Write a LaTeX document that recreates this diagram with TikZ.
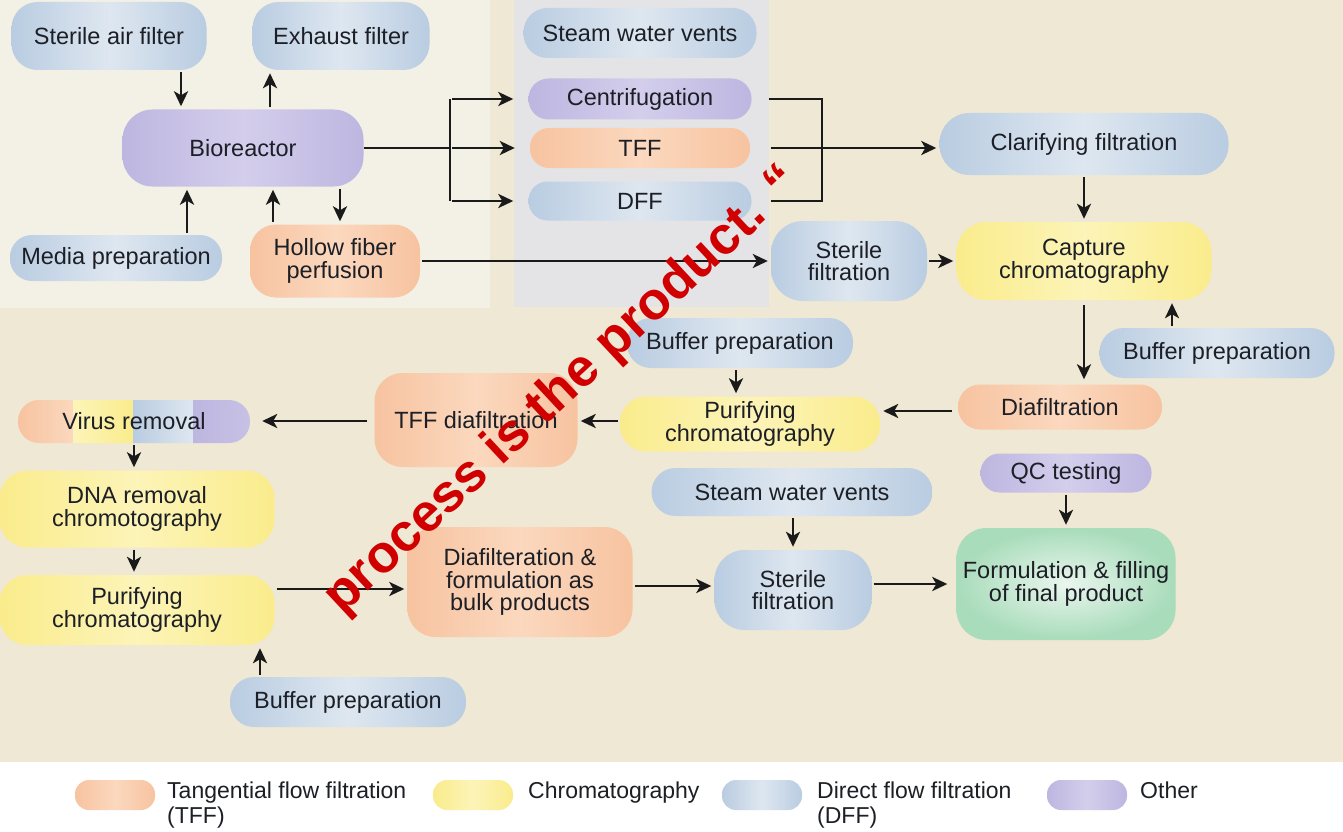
\documentclass[tikz,border=0pt]{standalone}
\usepackage{fontspec}
\setmainfont{Liberation Sans}
\usetikzlibrary{arrows.meta}
\newcommand\nodefnt{\fontsize{23.5}{22.5}\selectfont}
\newcommand\legfnt{\fontsize{23}{25}\selectfont}
\newcommand\wmfnt{\fontsize{53}{53}\selectfont\bfseries}
\definecolor{bgc}{HTML}{EFE8D4}
\definecolor{panelA}{HTML}{F3F1E5}
\definecolor{panelB}{HTML}{E4E4E6}
\definecolor{dffE}{HTML}{B9CCE1}
\definecolor{dffM}{HTML}{DEE7F0}
\definecolor{othE}{HTML}{BDB6E0}
\definecolor{othM}{HTML}{D4CEEC}
\definecolor{tffE}{HTML}{F7C3A0}
\definecolor{tffM}{HTML}{FBD8BE}
\definecolor{chrE}{HTML}{FAEC8C}
\definecolor{chrM}{HTML}{FCF4B8}
\definecolor{grnO}{HTML}{A8DCBA}
\definecolor{grnI}{HTML}{EAF6EE}
\definecolor{ink}{HTML}{1A1A1A}
\definecolor{txt}{HTML}{1C1F26}
\definecolor{wmred}{HTML}{D00000}
\begin{document}
\begin{tikzpicture}[x=1pt,y=-1pt,
  bx/.style={inner sep=0pt, align=center, font=\nodefnt, text=txt},
  rc/.style={rounded corners=#1},
  wh/.style 2 args={minimum width=#1pt, minimum height=#2pt},
  dff/.style={bx, left color=dffE, right color=dffE, middle color=dffM},
  oth/.style={bx, left color=othE, right color=othE, middle color=othM},
  tffc/.style={bx, left color=tffE, right color=tffE, middle color=tffM},
  chr/.style={bx, left color=chrE, right color=chrE, middle color=chrM},
  grn/.style={bx, inner color=grnI, outer color=grnO},
  ln/.style={draw=ink, line width=2.7pt},
  arr/.style={ln, -{Stealth[length=15pt,width=14pt,inset=4pt]}, shorten >=3pt, shorten <=2pt}
]
\useasboundingbox (0,0) rectangle (1343,832);
% backgrounds
\fill[bgc] (0,0) rectangle (1343,762);
\fill[white] (0,762) rectangle (1343,832);
\fill[panelA] (0,0) rectangle (490,308);
\fill[panelB] (514,0) rectangle (769,307);

% upstream
\node[dff, rc=26pt, wh={195}{68}] (saf) at (109,36) {Sterile air filter};
\node[dff, rc=26pt, wh={177}{68}] (exh) at (341,36) {Exhaust filter};
\node[oth, rc=30pt, wh={241}{77}] (bio) at (243,148) {Bioreactor};
\node[dff, rc=22pt, wh={212}{46}] (med) at (116,258) {Media preparation};
\node[tffc, rc=26pt, wh={170}{73}] (hf) at (335,261) {Hollow fiber\\perfusion};
\node[dff, rc=24pt, wh={233}{50}] (swv1) at (640,33) {Steam water vents};
\node[oth, rc=20pt, wh={223}{41}] (cen) at (640,99) {Centrifugation};
\node[tffc, rc=19pt, wh={220}{40}] (tff) at (640,148) {TFF};
\node[dff, rc=19pt, wh={223}{39}] (dff) at (640,201) {DFF};
\node[dff, rc=30pt, wh={289}{62}] (clar) at (1084,144) {Clarifying filtration};
\node[dff, rc=32pt, wh={156}{80}] (sf1) at (849,261) {Sterile\\filtration};
\node[chr, rc=30pt, wh={255}{78}] (cap) at (1084,261) {Capture\\chromatography};
\node[dff, rc=24pt, wh={235}{50}] (bp1) at (1217,353) {Buffer preparation};
\node[dff, rc=24pt, wh={226}{50}] (bp2) at (740,343) {Buffer preparation};
\node[tffc, rc=22pt, wh={204}{45}] (dia) at (1060,407) {Diafiltration};
\node[chr, rc=26pt, wh={260}{55}] (pm) at (750,424) {Purifying\\chromatography};
\node[tffc, rc=28pt, wh={203}{94}] (tffd) at (476,420) {TFF diafiltration};

% virus removal (multicolour)
\begin{scope}
\clip[rounded corners=21pt] (18,400) rectangle (250,443);
\shade[left color=tffE, right color=tffM] (18,400) rectangle (73,443);
\shade[left color=chrM, right color=chrE] (73,400) rectangle (133,443);
\shade[left color=dffE, right color=dffM] (133,400) rectangle (193,443);
\shade[left color=othE, right color=othE!85!white] (193,400) rectangle (250,443);
\end{scope}
\node[bx, wh={232}{43}] (vr) at (134,421.5) {Virus removal};

\node[chr, rc=28pt, wh={275}{77}] (dna) at (137,509) {DNA removal\\chromotography};
\node[chr, rc=28pt, wh={275}{70}] (pl) at (137,610) {Purifying\\chromatography};
\node[dff, rc=24pt, wh={236}{50}] (bp3) at (348,702) {Buffer preparation};
\node[tffc, rc=28pt, wh={225}{110}] (dfb) at (520,582) {Diafilteration \&\\formulation as\\bulk products};
\node[dff, rc=24pt, wh={281}{48}] (swv2) at (792,492) {Steam water vents};
\node[oth, rc=19pt, wh={171}{39}] (qc) at (1066,473) {QC testing};
\node[dff, rc=30pt, wh={157}{80}] (sf2) at (793,590) {Sterile\\filtration};
\node[grn, rc=30pt, wh={219}{112}] (form) at (1066,584) {Formulation \& filling\\of final product};

% connectors: upstream
\draw[arr] (saf.south -| 181,0) -- (bio.north -| 181,0);
\draw[arr] (bio.north -| 270,0) -- (exh.south -| 270,0);
\draw[arr] (med.north -| 187,0) -- (bio.south -| 187,0);
\draw[arr] (hf.north -| 273,0) -- (bio.south -| 273,0);
\draw[arr] (bio.south -| 340,0) -- (hf.north -| 340,0);

\coordinate (j1) at (450,148);
\coordinate (j2) at (822,148);
\draw[ln] (bio.east) -- (j1);
\draw[ln] (j1 |- cen) -- (j1 |- dff);
\draw[arr, shorten >=15pt] (j1 |- cen) -- (cen.west);
\draw[arr, shorten >=15pt] (j1) -- (tff.west);
\draw[arr, shorten >=15pt] (j1 |- dff) -- (dff.west);
\draw[ln] (cen.east) ++(17,0) -- (j2 |- cen) -- (j2 |- dff) -- ++(-51,0);
\draw[arr, shorten <=21pt] (tff.east) -- (clar.west |- tff);
\draw[arr] (hf.east) -- (sf1.west);
\draw[arr] (sf1.east) -- (cap.west);
\draw[arr] (clar.south) -- (cap.north);
\draw[arr, shorten >=5pt, shorten <=5pt] (cap.south) -- (dia.north -| cap.south);
\draw[arr] (bp1.north -| 1172,0) -- (cap.south -| 1172,0);

% middle row
\draw[arr, shorten <=6pt] (dia.west |- 0,411) -- (pm.east |- 0,411);
\draw[arr] (bp2.south -| 736,0) -- (pm.north -| 736,0);
\draw[arr] (pm.west |- 0,421) -- (tffd.east |- 0,421);
\draw[arr, shorten <=7pt, shorten >=12pt] (tffd.west |- 0,421) -- (vr.east |- 0,421);
\draw[arr] (vr.south -| 134,0) -- (dna.north -| 134,0);
\draw[arr] (dna.south -| 134,0) -- (pl.north -| 134,0);
\draw[arr] (bp3.north -| 260,0) -- (pl.south -| 260,0);
\draw[arr] (pl.east |- 0,589) -- (dfb.west |- 0,589);
\draw[arr] (dfb.east |- 0,586) -- (sf2.west |- 0,586);
\draw[arr] (swv2.south -| 793,0) -- (sf2.north -| 793,0);
\draw[arr, shorten >=9pt] (sf2.east |- 0,584) -- (form.west |- 0,584);
\draw[arr] (qc.south) -- (form.north);

% legend
\node[tffc, rc=14pt, wh={80}{30}] (lg1) at (115,795) {};
\node[chr, rc=14pt, wh={80}{30}] (lg2) at (473,795) {};
\node[dff, rc=14pt, wh={80}{30}] (lg3) at (762,795) {};
\node[oth, rc=14pt, wh={80}{30}] (lg4) at (1087,795) {};
\node[font=\legfnt, text=txt, anchor=north west, align=left, inner sep=0pt] (lt1) at (167,782) {Tangential flow filtration\\(TFF)};
\node[font=\legfnt, text=txt, anchor=north west, align=left, inner sep=0pt] (lt2) at (528,782) {Chromatography};
\node[font=\legfnt, text=txt, anchor=north west, align=left, inner sep=0pt] (lt3) at (817,782) {Direct flow filtration\\(DFF)};
\node[font=\legfnt, text=txt, anchor=north west, align=left, inner sep=0pt] (lt4) at (1140,782) {Other};

% watermark
\node[rotate=43, text=wmred, font=\wmfnt, inner sep=0pt] (wmk) at (563,391) {process is the product. “};
\end{tikzpicture}
\end{document}
